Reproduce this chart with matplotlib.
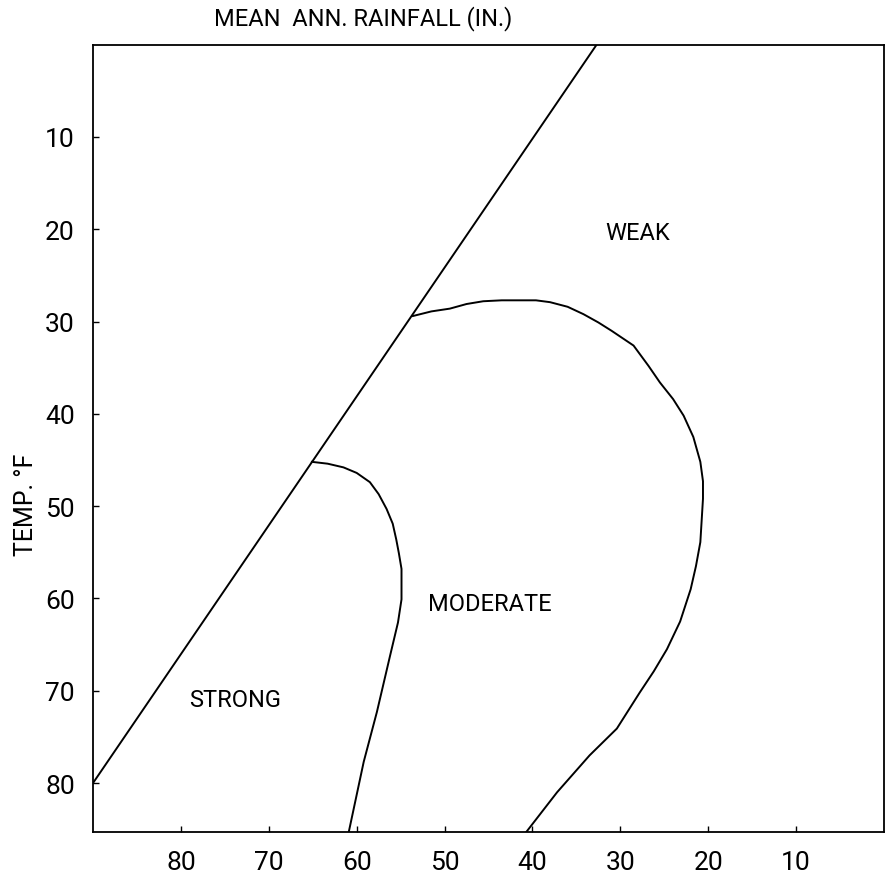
import numpy as np
from matplotlib import pyplot as plt

# 軸の目盛り
rain_ticks = [80, 70, 60, 50, 40, 30, 20, 10]
temp_ticks = [10, 20, 30, 40, 50, 60, 70, 80]

# 直線の境界 (雨量, 気温)
line_rain = [32.7, 90.0]
line_temp = [0.0, 80.0]

# WEAK と MODERATE の境界
weak_rain = [53.6, 51.5, 49.4, 47.5, 45.6, 43.5, 41.4, 39.6, 38.0, 36.0, 34.2, 32.5, 31.0,
             28.5, 26.8, 25.5, 24.0, 22.8, 21.7, 20.9, 20.6, 20.6, 20.9, 21.4, 22.0, 23.2,
             24.7, 26.2, 27.8, 30.4, 33.5, 37.2, 40.7]
weak_temp = [29.4, 28.9, 28.6, 28.1, 27.8, 27.7, 27.7, 27.7, 27.9, 28.4, 29.2, 30.1, 31.0,
             32.6, 34.8, 36.6, 38.4, 40.2, 42.5, 45.2, 47.3, 49.2, 53.9, 56.5, 59.0, 62.5,
             65.5, 67.9, 70.2, 74.1, 77.0, 81.0, 85.3]

# STRONG と MODERATE の境界
strong_rain = [65.1, 63.3, 61.5, 60.0, 58.5, 57.5, 56.6, 55.9, 55.5, 55.2, 54.9, 54.9,
               55.3, 56.2, 57.7, 59.2, 60.9]
strong_temp = [45.2, 45.4, 45.8, 46.4, 47.4, 48.7, 50.3, 51.9, 53.6, 55.1, 56.8, 60.1,
               62.6, 66.2, 72.3, 77.7, 85.3]

# 領域ラベル
zone_names = ['WEAK', 'MODERATE', 'STRONG']
zone_rain = [28.0, 44.8, 73.8]
zone_temp = [20.3, 60.6, 70.9]

plt.rcParams['font.family'] = ['Roboto', 'DejaVu Sans']

fig = plt.figure(figsize=(8.9, 8.78), dpi=100)
ax = fig.add_axes([0.1045, 0.0513, 0.8888, 0.8967])

ax.plot(line_rain, line_temp, color='black', lw=1.4)
ax.plot(weak_rain, weak_temp, color='black', lw=1.4)
ax.plot(strong_rain, strong_temp, color='black', lw=1.4)

for name, r, t in zip(zone_names, zone_rain, zone_temp):
    ax.text(r, t, name, ha='center', va='center', fontsize=17)

ax.set_xlim(90, 0)
ax.set_ylim(85.3, 0)
ax.set_xticks(rain_ticks)
ax.set_yticks(temp_ticks)
ax.tick_params(direction='in', length=4, width=1, labelsize=19, pad=13)
for s in ax.spines.values():
    s.set_linewidth(1.3)

# タイトルと軸ラベル
ax.text(0.341, 1.035, 'MEAN  ANN. RAINFALL (IN.)', transform=ax.transAxes,
        ha='center', va='center', fontsize=17)
fig.text(26 / 890, 1 - 505 / 878, 'TEMP. °F', rotation=90, ha='center', va='center',
         fontsize=18)

plt.savefig('out.png', dpi=100)
